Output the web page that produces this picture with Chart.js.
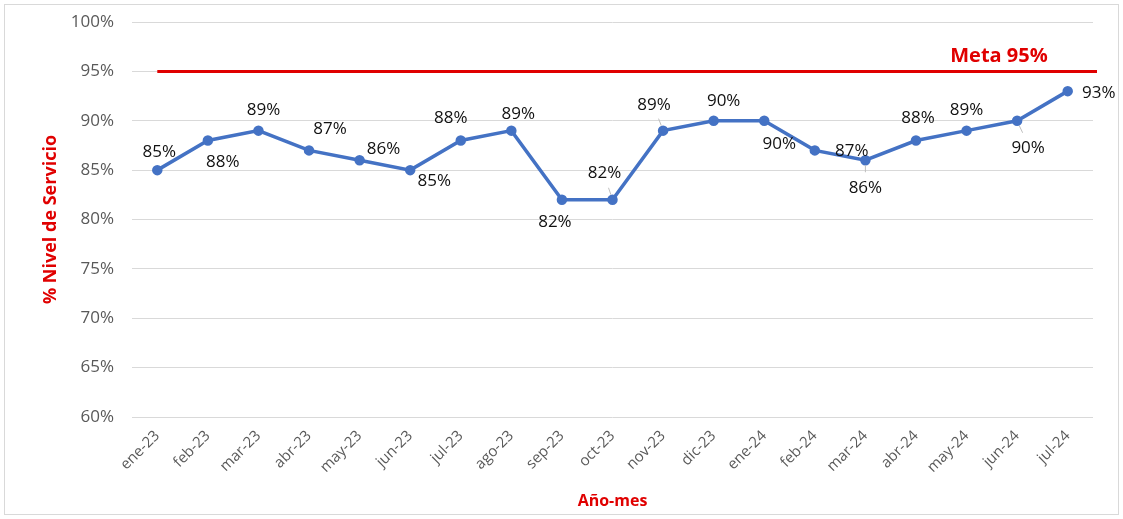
<!DOCTYPE html>
<html>
<head>
<meta charset="utf-8">
<script src="https://cdn.jsdelivr.net/npm/chart.js@4.4.0/dist/chart.umd.min.js"></script>
<style>
  html, body { margin: 0; padding: 0; background: #fff; }
  #wrap { position: absolute; left: 4px; top: 4px; width: 1113px; height: 509px; border: 1px solid #d9d9d9; }
  canvas { position: absolute; left: -5px; top: -5px; }
</style>
</head>
<body>
<div id="wrap"><canvas id="grafico" width="1123" height="519"></canvas></div>
<script>
// Datos del grafico
const meses = ['ene-23', 'feb-23', 'mar-23', 'abr-23', 'may-23', 'jun-23', 'jul-23', 'ago-23', 'sep-23', 'oct-23',
  'nov-23', 'dic-23', 'ene-24', 'feb-24', 'mar-24', 'abr-24', 'may-24', 'jun-24', 'jul-24'];
const nivelServicio = [85, 88, 89, 87, 86, 85, 88, 89, 82, 82, 89, 90, 90, 87, 86, 88, 89, 90, 93];
const meta = 95;
const metaTexto = 'Meta 95%';

// donde va cada etiqueta respecto al punto (solo estilo)
const posEtiqueta = [
  [2, -18], [15, 22], [5, -20], [21, -21], [24, -11], [24, 11], [-10, -22], [7, -16],
  [-7, 22], [-8, -27], [-9, -25], [10, -20], [15, 23], [37, 1], [0, 28], [2, -22],
  [0, -20], [11, 27], [31, 2]
];
// lineas guia pequenas de algunas etiquetas
const guias = [9, 10, 14, 17];

const fuente = '"Open Sans", "Noto Sans", sans-serif';

// plugin para la linea de meta y las etiquetas de datos
const extras = {
  id: 'extras',
  afterDatasetsDraw(chart) {
    const ctx = chart.ctx;
    const x = chart.scales.x;
    const y = chart.scales.y;
    const yMeta = y.getPixelForValue(meta);

    ctx.save();
    ctx.strokeStyle = '#e00000';
    ctx.lineWidth = 3;
    ctx.beginPath();
    ctx.moveTo(x.getPixelForValue(0), yMeta);
    ctx.lineTo(chart.chartArea.right + 4, yMeta);
    ctx.stroke();

    ctx.fillStyle = '#e00000';
    ctx.font = 'bold 20px ' + fuente;
    ctx.textAlign = 'center';
    ctx.textBaseline = 'middle';
    ctx.fillText(metaTexto, 999, yMeta - 15);

    const meta0 = chart.getDatasetMeta(0);
    // guias
    ctx.strokeStyle = '#bfbfbf';
    ctx.lineWidth = 1;
    guias.forEach(i => {
      const p = meta0.data[i];
      const off = posEtiqueta[i];
      const dir = off[1] > 0 ? 1 : -1;
      ctx.beginPath();
      ctx.moveTo(p.x + off[0] * 0.2, p.y + dir * 5);
      ctx.lineTo(p.x + off[0] * 0.5, p.y + dir * 12);
      ctx.stroke();
    });

    ctx.fillStyle = '#111';
    ctx.font = '17px ' + fuente;
    meta0.data.forEach((p, i) => {
      const off = posEtiqueta[i];
      ctx.fillText(nivelServicio[i] + '%', p.x + off[0], p.y + off[1]);
    });
    ctx.restore();
  }
};

new Chart(document.getElementById('grafico'), {
  type: 'line',
  data: {
    labels: meses,
    datasets: [{
      data: nivelServicio,
      borderColor: '#4472c4',
      backgroundColor: '#4472c4',
      borderWidth: 3.5,
      pointRadius: 3.5,
      pointHoverRadius: 3.5,
      tension: 0
    }]
  },
  options: {
    responsive: false,
    animation: false,
    layout: { padding: { top: 22, right: 30, left: 0, bottom: 0 } },
    plugins: { legend: { display: false }, tooltip: { enabled: false } },
    scales: {
      x: {
        offset: true,
        grid: { display: false },
        border: { display: false },
        ticks: {
          color: '#595959',
          font: { family: fuente, size: 15 },
          maxRotation: 45,
          minRotation: 45,
          padding: 2
        },
        title: {
          display: true,
          text: 'Año-mes',
          color: '#e00000',
          font: { family: fuente, size: 16, weight: 'bold' },
          padding: { top: 0, bottom: 8 }
        },
        afterFit(s) { s.height = 102; s.paddingLeft = 0; s.paddingRight = 0; }
      },
      y: {
        min: 60,
        max: 100,
        ticks: {
          stepSize: 5,
          color: '#595959',
          font: { family: fuente, size: 17 },
          padding: 18,
          callback: v => v + '%'
        },
        grid: { color: '#d9d9d9', drawTicks: false },
        border: { display: false },
        title: {
          display: true,
          text: '% Nivel de Servicio',
          color: '#e00000',
          font: { family: fuente, size: 18, weight: 'bold' },
          padding: { top: 40, bottom: 0 }
        },
        afterFit(s) { s.width = 132; s.paddingTop = 0; s.paddingBottom = 0; }
      }
    }
  },
  plugins: [extras]
});
</script>
</body>
</html>
